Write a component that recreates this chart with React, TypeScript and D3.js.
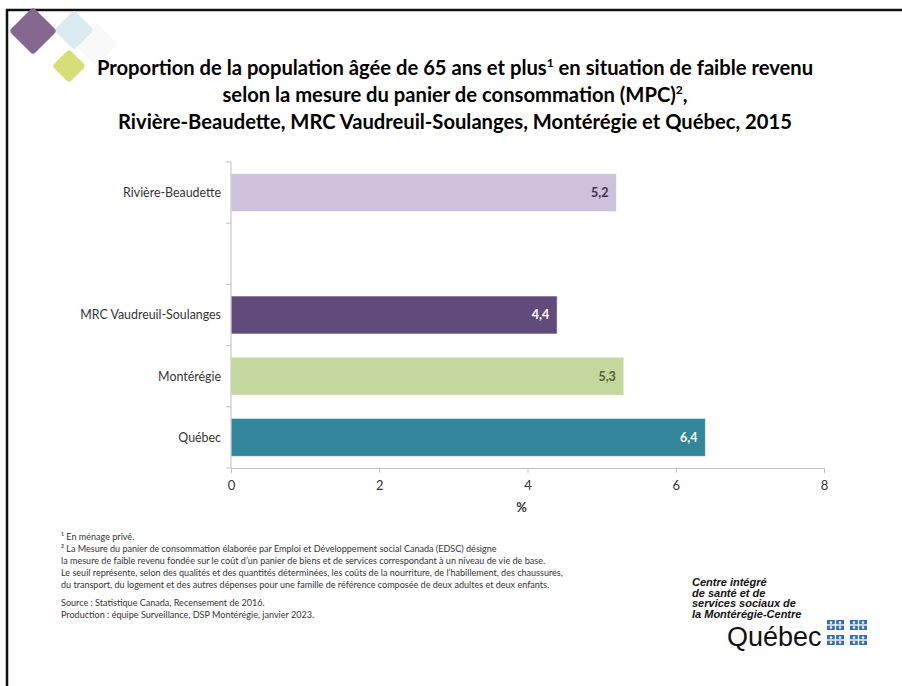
import { useEffect, useRef } from 'react';
import * as d3 from 'd3';

const categories = ['Rivière-Beaudette', '', 'MRC Vaudreuil-Soulanges', 'Montérégie', 'Québec'];
const values: (number | null)[] = [5.2, null, 4.4, 5.3, 6.4];
const barColors = ['#cdc1db', '#ffffff', '#614b7a', '#c4d89e', '#31869b'];
const labelColors = ['#403151', '#ffffff', '#ffffff', '#4f6228', '#ffffff'];
const xTicks = [0, 2, 4, 6, 8];

const titleLines = [
  ['Proportion de la population âgée de 65 ans et plus', '1', ' en situation de faible revenu'],
  ['selon la mesure du panier de consommation (MPC)', '2', ','],
  ['Rivière-Beaudette, MRC Vaudreuil-Soulanges, Montérégie et Québec, 2015', '', ''],
];

const notes = [
  '¹ En ménage privé.',
  '² La Mesure du panier de consommation élaborée par Emploi et Développement social Canada (EDSC) désigne',
  'la mesure de faible revenu fondée sur le coût d\u2019un panier de biens et de services correspondant à un niveau de vie de base.',
  'Le seuil représente, selon des qualités et des quantités déterminées, les coûts de la nourriture, de l\u2019habillement, des chaussures,',
  'du transport, du logement et des autres dépenses pour une famille de référence  composée de deux adultes et deux enfants.',
];
const sources = [
  'Source : Statistique Canada, Recensement de 2016.',
  'Production : équipe Surveillance, DSP Montérégie, janvier 2023.',
];
const logoLines = ['Centre intégré', 'de santé et de', 'services sociaux de', 'la Montérégie-Centre'];

const FONT = 'Lato, "Open Sans", sans-serif';

const App = () => {
  const svgRef = useRef<SVGSVGElement>(null);

  useEffect(() => {
    const svg = d3.select(svgRef.current);
    svg.selectAll('*').remove();

    // frame
    svg.append('rect').attr('width', 902).attr('height', 686).attr('fill', '#fff');
    svg.append('line').attr('x1', 6).attr('x2', 902).attr('y1', 10).attr('y2', 10)
      .attr('stroke', '#111').attr('stroke-width', 2.5);
    svg.append('line').attr('x1', 7).attr('x2', 7).attr('y1', 9).attr('y2', 686)
      .attr('stroke', '#111').attr('stroke-width', 2.5);

    // decorative diamonds
    const diamonds = [
      { cx: 96, cy: 44, r: 22, fill: '#f9f9f9' },
      { cx: 74, cy: 30, r: 20, fill: '#d9ebf1' },
      { cx: 33, cy: 31, r: 24, fill: '#85678f' },
      { cx: 69, cy: 66, r: 17, fill: '#d6de79' },
    ];
    diamonds.forEach(d => {
      svg.append('rect')
        .attr('x', d.cx - d.r / Math.SQRT2).attr('y', d.cy - d.r / Math.SQRT2)
        .attr('width', d.r * Math.SQRT2).attr('height', d.r * Math.SQRT2)
        .attr('rx', 3.5)
        .attr('fill', d.fill)
        .attr('transform', `rotate(45,${d.cx},${d.cy})`);
    });

    // title
    titleLines.forEach((parts, i) => {
      const t = svg.append('text')
        .attr('x', 455).attr('y', 75 + i * 27)
        .attr('text-anchor', 'middle')
        .style('font-family', FONT).style('font-size', '20.2px').style('font-weight', 'bold')
        .attr('fill', '#000');
      t.append('tspan').text(parts[0]);
      if (parts[1]) {
        t.append('tspan').attr('dy', -8).style('font-size', '12px').text(parts[1]);
        t.append('tspan').attr('dy', 8).text(parts[2]);
      }
    });

    // chart
    const left = 231, right = 824, top = 162, bottom = 468;
    const x = d3.scaleLinear().domain([0, 8]).range([left, right]);
    const y = d3.scaleBand().domain(categories).range([top, bottom])
      .paddingInner(0.38).paddingOuter(0.19);

    const g = svg.append('g');

    // bars
    categories.forEach((c, i) => {
      const v = values[i];
      if (v == null) return;
      g.append('rect')
        .attr('x', x(0)).attr('y', y(c)!)
        .attr('width', x(v) - x(0)).attr('height', y.bandwidth())
        .attr('fill', barColors[i])
        .attr('stroke', 'rgba(255,255,255,0.55)').attr('stroke-width', 1);
      g.append('text')
        .attr('x', x(v) - 8).attr('y', y(c)! + y.bandwidth() / 2)
        .attr('dy', '0.35em').attr('text-anchor', 'end')
        .style('font-family', FONT).style('font-size', '12.5px').style('font-weight', 'bold')
        .attr('fill', labelColors[i])
        .text(d3.format('.1f')(v).replace('.', ','));
    });

    // y axis
    const yStep = y.step();
    g.append('line').attr('x1', left).attr('x2', left).attr('y1', top).attr('y2', bottom)
      .attr('stroke', '#bfbfbf');
    d3.range(categories.length + 1).forEach(k => {
      const ty = top + k * yStep;
      g.append('line').attr('x1', left - 5).attr('x2', left).attr('y1', ty).attr('y2', ty)
        .attr('stroke', '#bfbfbf');
    });
    categories.forEach(c => {
      if (!c) return;
      g.append('text')
        .attr('x', left - 10).attr('y', y(c)! + y.bandwidth() / 2)
        .attr('dy', '0.35em').attr('text-anchor', 'end')
        .style('font-family', FONT).style('font-size', '12.4px')
        .attr('fill', '#333')
        .text(c);
    });

    // x axis
    const xAxis = svg.append('g')
      .attr('transform', `translate(0,${bottom})`)
      .call(d3.axisBottom(x).tickValues(xTicks).tickSize(5).tickPadding(8).tickFormat(d3.format('d')));
    xAxis.select('.domain').attr('stroke', '#bfbfbf');
    xAxis.selectAll('.tick line').attr('stroke', '#bfbfbf');
    xAxis.selectAll('.tick text')
      .style('font-family', FONT).style('font-size', '13px').attr('fill', '#333');

    svg.append('text')
      .attr('x', (left + right) / 2 - 6).attr('y', 512).attr('text-anchor', 'middle')
      .style('font-family', FONT).style('font-size', '13px').style('font-weight', 'bold')
      .attr('fill', '#333').text('%');

    // footnotes
    notes.forEach((n, i) => {
      svg.append('text')
        .attr('x', 61).attr('y', 540 + i * 12)
        .style('font-family', FONT).style('font-size', '9.05px').attr('fill', '#333')
        .text(n);
    });
    sources.forEach((n, i) => {
      svg.append('text')
        .attr('x', 61).attr('y', 606 + i * 12)
        .style('font-family', FONT).style('font-size', '9.05px').attr('fill', '#333')
        .text(n);
    });

    // logo
    logoLines.forEach((l, i) => {
      svg.append('text')
        .attr('x', 692).attr('y', 586 + i * 10.5)
        .style('font-family', '"Liberation Sans", Arial, sans-serif')
        .style('font-size', '11px').style('font-weight', 'bold').style('font-style', 'italic')
        .attr('fill', '#111').text(l);
    });
    svg.append('text')
      .attr('x', 727).attr('y', 646)
      .style('font-family', '"Liberation Sans", Arial, sans-serif')
      .style('font-size', '27px').attr('fill', '#111').text('Québec');

    const flags = [[827, 620], [850, 620], [827, 635], [850, 635]];
    flags.forEach(([fx, fy]) => {
      const f = svg.append('g').attr('transform', `translate(${fx},${fy})`);
      f.append('rect').attr('width', 17).attr('height', 10).attr('fill', '#2f6db5');
      f.append('rect').attr('x', 7.8).attr('width', 1.4).attr('height', 10).attr('fill', '#fff');
      f.append('rect').attr('y', 4.3).attr('width', 17).attr('height', 1.4).attr('fill', '#fff');
      [[4, 2.5], [13, 2.5], [4, 7.5], [13, 7.5]].forEach(([cx, cy]) => {
        f.append('circle').attr('cx', cx).attr('cy', cy).attr('r', 1.3).attr('fill', '#fff');
      });
    });
  }, []);

  return (
    <svg
      ref={svgRef}
      width={902}
      height={686}
      style={{ position: 'absolute', left: 0, top: 0, display: 'block' }}
    />
  );
};

export default App;
